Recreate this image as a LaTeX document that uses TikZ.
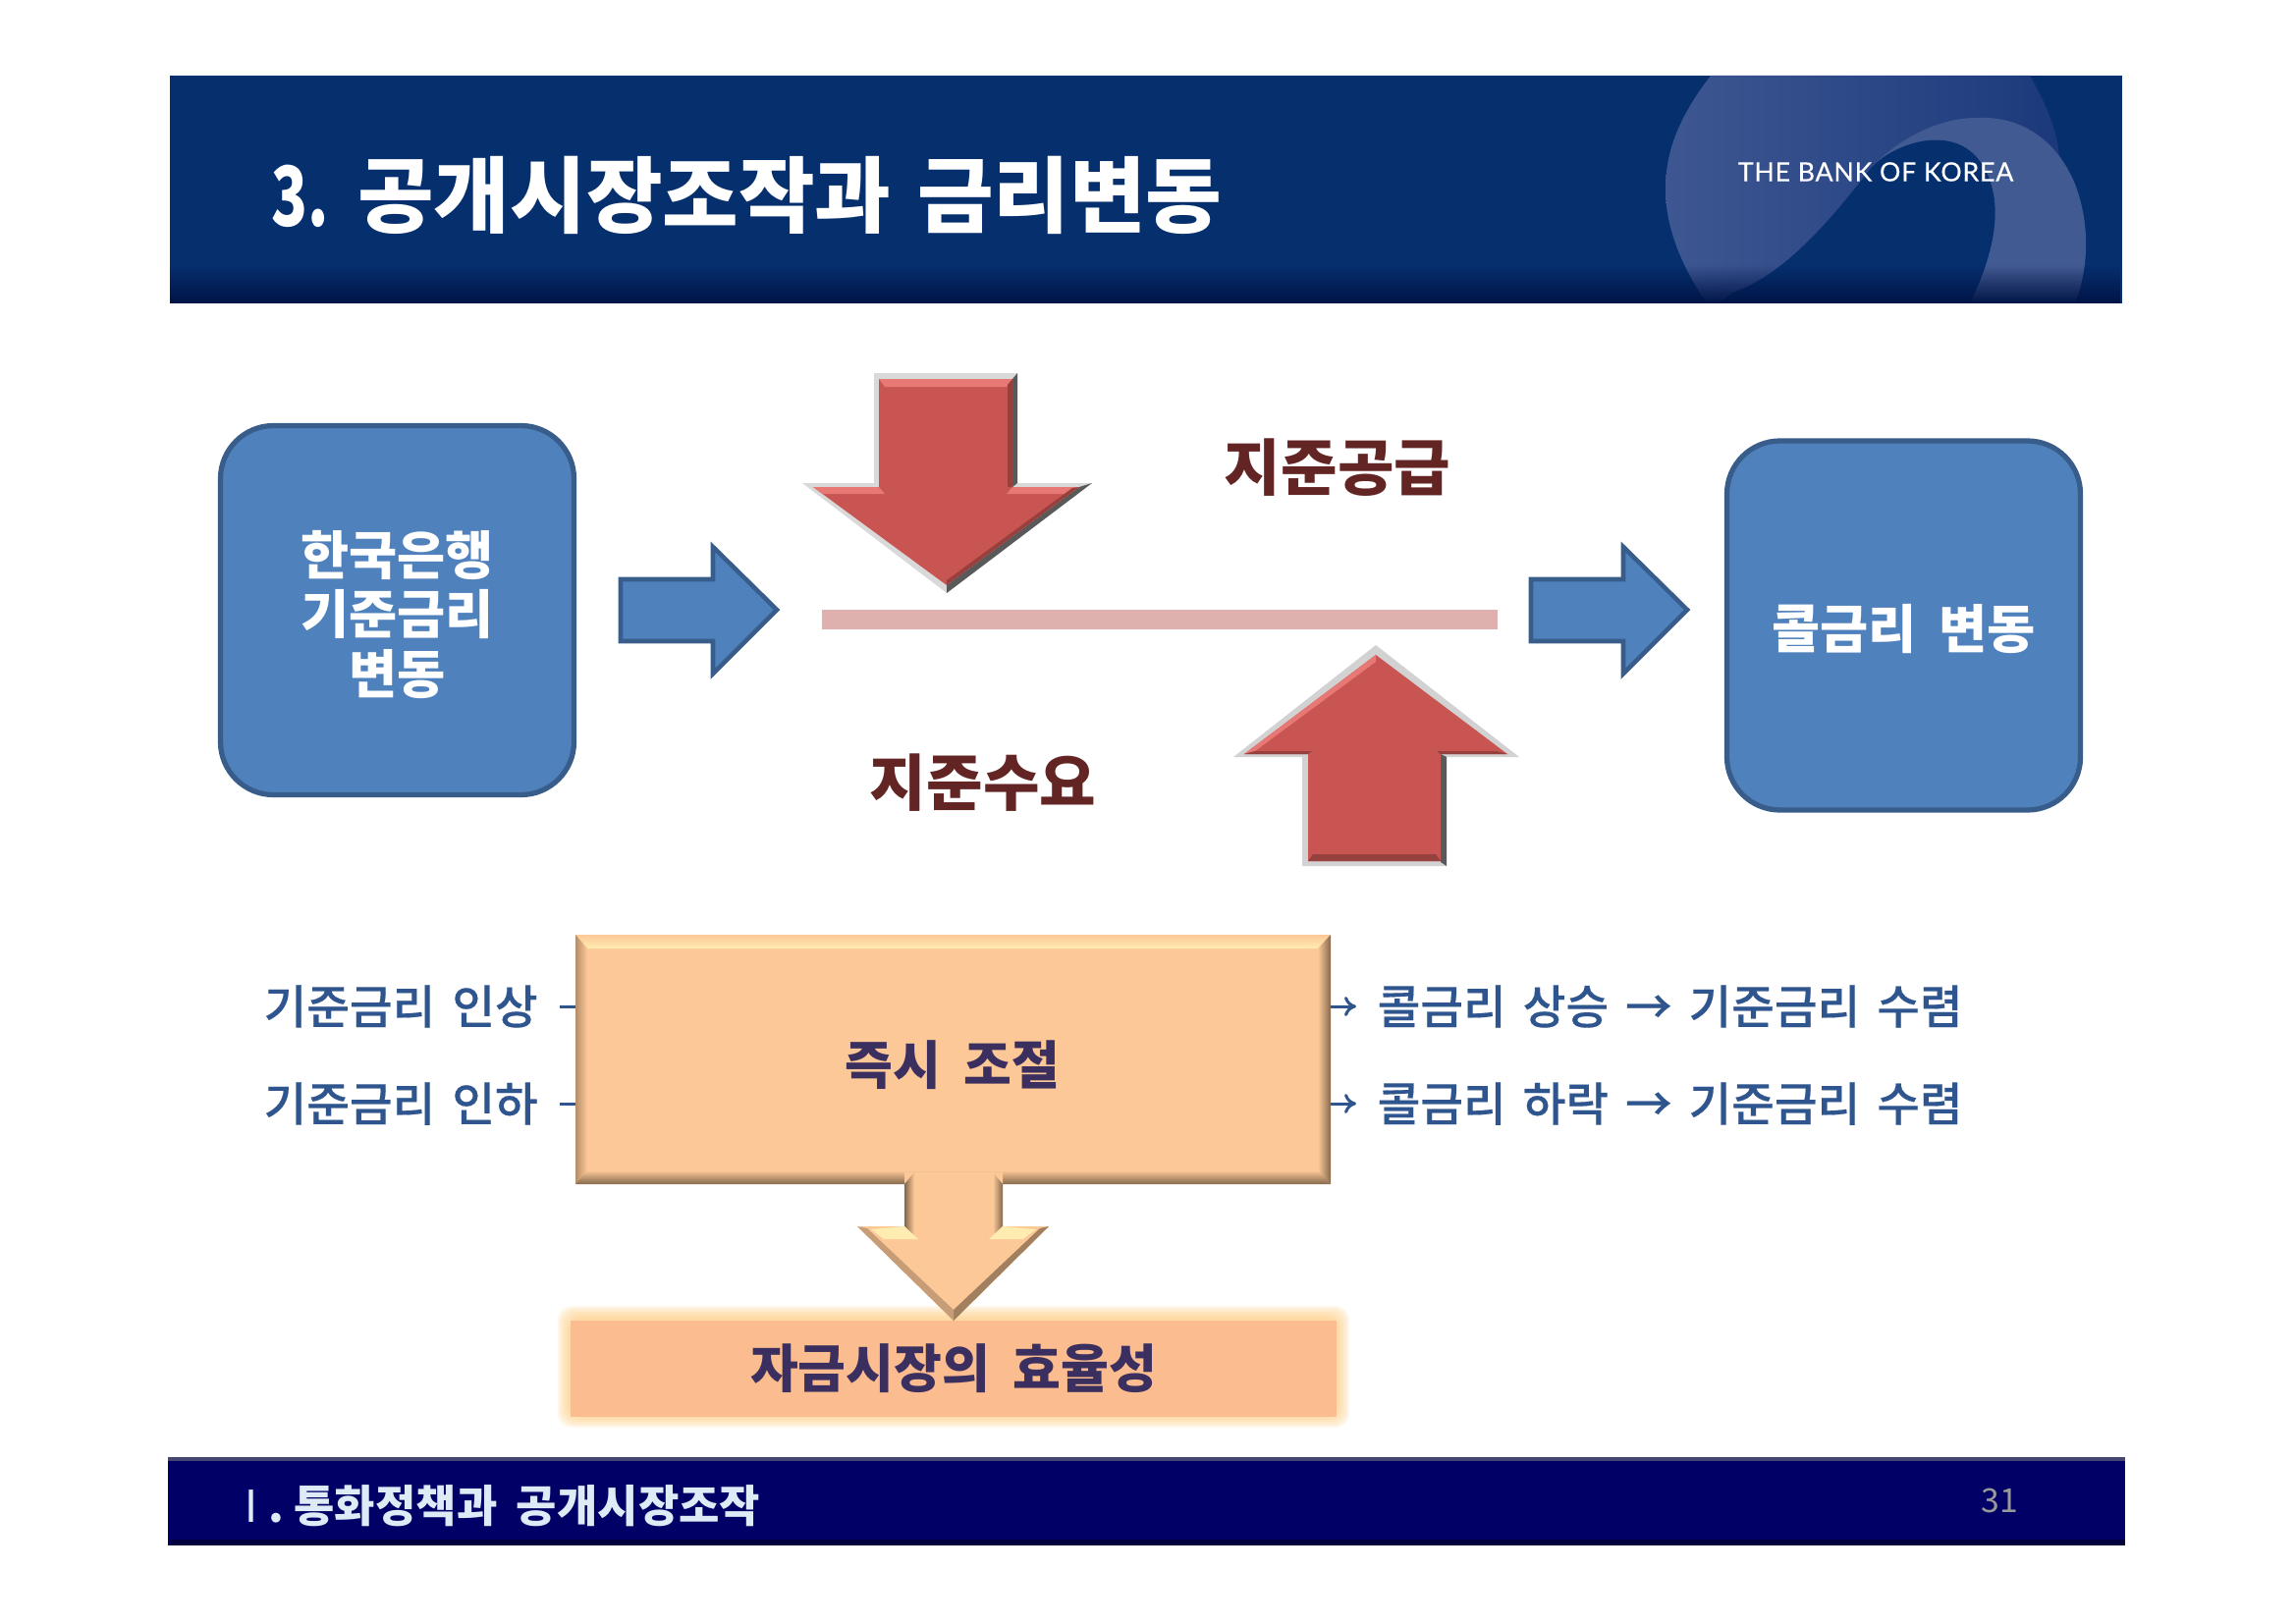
\documentclass[tikz,border=0pt]{standalone}
\usepackage{fontspec}
\setmainfont{Noto Sans CJK KR}[WordSpace=1.9]
\newfontfamily\figmedium{Noto Sans CJK KR Medium}[WordSpace=1.6,FakeBold=0.3]
\newfontfamily\figlatin{Lato}[LetterSpace=3,FakeBold=0.3]
\usepackage{xcolor}
\usetikzlibrary{arrows.meta,calc,positioning,fadings}
\definecolor{figNavy}{RGB}{6,47,110}
\definecolor{figDeep}{RGB}{0,20,70}
\definecolor{figFoot}{RGB}{0,0,102}
\definecolor{figSwirlA}{RGB}{62,87,146}
\definecolor{figSwirlB}{RGB}{26,56,122}
\definecolor{figSwirlC}{RGB}{66,90,146}
\definecolor{figBlue}{RGB}{79,129,189}
\definecolor{figBlueEdge}{RGB}{56,93,138}
\definecolor{figLink}{RGB}{47,85,143}
\definecolor{figRed}{RGB}{200,85,81}
\definecolor{figRedHi}{RGB}{232,120,115}
\definecolor{figRedLo}{RGB}{150,65,62}
\definecolor{figBar}{RGB}{223,177,174}
\definecolor{figMaroon}{RGB}{99,37,35}
\definecolor{figPeach}{RGB}{252,200,152}
\definecolor{figCream}{RGB}{255,236,176}
\definecolor{figBrown}{RGB}{132,104,76}
\definecolor{figSand}{RGB}{251,189,143}
\definecolor{figGlow}{RGB}{253,205,130}
\definecolor{figInk}{RGB}{59,47,95}
\definecolor{figFootText}{RGB}{222,234,246}
\tikzset{
  figbluebox/.style={draw=figBlueEdge,line width=1.5pt,fill=figBlue,rounded corners=5.4mm,minimum width=3.6cm,minimum height=3.76cm},
  figboxtext/.style={text=white,align=center,inner sep=0pt,font=\bfseries\fontsize{15.2}{17.2}\selectfont},
  figblockblue/.style={draw=figBlueEdge,line width=1.3pt,fill=figBlue},
  figlabelred/.style={text=figMaroon,inner sep=0pt,font=\bfseries\fontsize{17.8}{20}\selectfont},
  figlabelblue/.style={text=figLink,inner sep=0pt,anchor=west,font=\figmedium\fontsize{13.5}{16}\selectfont},
  figinkbold/.style={text=figInk,inner sep=0pt,font=\bfseries\fontsize{15.1}{18}\selectfont},
  figlink/.style={-{To[length=1.2mm,width=2mm]},draw=figLink,line width=0.85pt,shorten <=2.2mm,shorten >=2.1mm},
}
\begin{document}
\begin{tikzpicture}[x=0.1mm,y=-0.1mm]
\useasboundingbox (0,0) rectangle (2337,1653);

% Header band with the swirl.
\begin{scope}
\clip (173,77) rectangle (2161,309);
\fill[figNavy] (173,77) rectangle (2161,309);
\shade[left color=figSwirlA,right color=figSwirlB] (1742,77) .. controls (1705,125) and (1696,160) .. (1696,193)
  .. controls (1696,235) and (1715,275) .. (1738,309) -- (2113,309) -- (2097,160)
  .. controls (2095,130) and (2080,100) .. (2067,77) -- cycle;
\fill[figNavy] (1750,309) -- (1765,298) .. controls (1815,280) and (1860,230) .. (1906,170)
  .. controls (1930,145) and (1985,128) .. (2013,160) .. controls (2038,190) and (2040,240) .. (2006,309) -- cycle;
\fill[figSwirlC] (1906,170) .. controls (1930,145) and (1985,128) .. (2013,160)
  .. controls (2038,190) and (2040,240) .. (2006,309) -- (2113,309)
  .. controls (2128,270) and (2128,225) .. (2112,185) .. controls (2090,135) and (2050,118) .. (2013,120)
  .. controls (1975,120) and (1935,140) .. (1906,170) -- cycle;
\fill[figDeep,path fading=north] (173,270) rectangle (2161,309);
\end{scope}
\node[text=white,inner sep=0pt,anchor=west,font=\bfseries\fontsize{24}{28}\selectfont] (title) at (276,199) {\scalebox{0.72}[1]{3.}\hspace{-0.75mm} 공개시장조작과\hspace{-1mm} 금리변동};
\node[text=white,inner sep=0pt,font=\figlatin\fontsize{7.6}{9}\selectfont] (bank) at (1910,175) {THE BANK OF KOREA};

% Side boxes and blue arrows.
\node[figbluebox] (rateBox) at (404.5,621.5) {};
\node[figbluebox] (callBox) at (1938.5,637) {};
\node[figboxtext] (rateText) at (404.5,626) {한국은행\\기준금리\\변동};
\node[figboxtext] (callText) at (1938.5,641) {콜금리 변동};
\foreach \ax in {632,1559}{
  \draw[figblockblue] (\ax,590) -- ++(94,0) -- ++(0,-33) -- ++(65,64) -- ++(-65,65) -- ++(0,-33) -- ++(-94,0) -- cycle;
}

% Reserve bar and red arrows.
\fill[figBar] (837,621) rectangle (1525,641);
\fill[gray!30] (890,380) -- (1036,380) -- (1036,492) -- (1112,492) -- (964,604) -- (817,492) -- (890,492) -- cycle;
\fill[gray!70!black] (1036,380) -- (1036,492) -- (1031,496) -- (1031,386) -- cycle;
\fill[gray!70!black] (1112,492) -- (964,604) -- (964,596) -- (1099,496) -- cycle;
\fill[figRed] (895,386) -- (1031,386) -- (1031,496) -- (1099,496) -- (964,596) -- (828,496) -- (895,496) -- cycle;
\fill[figRedHi] (895,386) -- (1031,386) -- (1025,394) -- (901,394) -- cycle;
\fill[figRedHi] (828,496) -- (895,496) -- (901,503) -- (838,503) -- cycle;
\fill[figRedHi] (1031,496) -- (1099,496) -- (1089,503) -- (1025,503) -- cycle;
\fill[figRedLo] (1031,386) -- (1031,496) -- (1026,496) -- (1026,392) -- cycle;
\fill[figRedLo] (1099,496) -- (964,596) -- (964,591) -- (1092,497) -- cycle;

\fill[gray!35] (1401,657) -- (1547,771) -- (1473,771) -- (1473,882) -- (1326,882) -- (1326,771) -- (1256,771) -- cycle;
\fill[gray!70!black] (1467,768) -- (1473,771) -- (1473,882) -- (1467,878) -- cycle;
\fill[figRed] (1401,667) -- (1535,768) -- (1467,768) -- (1467,877) -- (1332,877) -- (1332,768) -- (1267,768) -- cycle;
\fill[figRedHi] (1401,667) -- (1267,768) -- (1278,765) -- (1401,674) -- cycle;
\fill[figRedLo] (1267,768) -- (1332,768) -- (1336,765) -- (1278,765) -- cycle;
\fill[figRedLo] (1467,768) -- (1535,768) -- (1524,765) -- (1463,765) -- cycle;
\fill[figRedLo] (1332,877) -- (1467,877) -- (1462,870) -- (1337,870) -- cycle;
\node[figlabelred] (supply) at (1362,476) {지준공급};
\node[figlabelred] (demand) at (1001,797) {지준수요};

% Policy rate lines, running behind the box.
\node[figlabelblue] (hikeText) at (268,1025) {기준금리 인상};
\node[figlabelblue] (cutText) at (268,1124) {기준금리 인하};
\node[figlabelblue] (riseText) at (1402,1025) {콜금리 상승 → 기준금리 수렴};
\node[figlabelblue] (fallText) at (1402,1124) {콜금리 하락 → 기준금리 수렴};
\draw[figlink] (hikeText.east) -- (riseText.west);
\draw[figlink] (cutText.east) -- (fallText.west);

% Orange box with its bevel.
\fill[figPeach] (586,952) rectangle (1355,1206);
\shade[top color=figPeach,bottom color=figCream] (586,952) -- (1355,952) -- (1342,966) -- (598,966) -- cycle;
\shade[left color=figBrown!60!figPeach,right color=figPeach] (586,952) -- (598,966) -- (598,1192) -- (586,1206) -- cycle;
\shade[left color=figPeach,right color=figBrown] (1355,952) -- (1342,966) -- (1342,1192) -- (1355,1206) -- cycle;
\shade[top color=figPeach,bottom color=figBrown] (586,1206) -- (598,1192) -- (1342,1192) -- (1355,1206) -- cycle;
\node[figinkbold] (adjust) at (970,1085) {즉시 조절};

% Glow and efficiency box.
\foreach \gl in {13,11,9,7,5,3,1}{
  \fill[figGlow,opacity=0.17,rounded corners=1.4mm] ({581-\gl},{1343-\gl}) rectangle ({1361+\gl},{1441+\gl});
}
\node[figinkbold,fill=figSand,minimum width=7.8cm,minimum height=0.98cm,yshift=-0.2mm] (market) at (971,1392) {\raisebox{-0.7mm}{자금시장의 효율성}};

% Orange arrow.
\fill[figPeach] (921,1194) -- (1021,1194) -- (1021,1249) -- (1068,1249) -- (971,1345) -- (873,1249) -- (921,1249) -- cycle;
\shade[left color=figPeach,right color=figBrown] (1011,1194) -- (1021,1206) -- (1021,1249) -- (1011,1260) -- cycle;
\shade[left color=figBrown,right color=figPeach] (921,1206) -- (931,1194) -- (931,1260) -- (921,1249) -- cycle;
\fill[figBrown!75!figPeach] (1068,1249) -- (971,1345) -- (971,1334) -- (1059,1251) -- cycle;
\fill[figBrown!45!figPeach] (873,1249) -- (971,1345) -- (971,1334) -- (883,1251) -- cycle;
\fill[figCream] (887,1252) -- (921,1249) -- (935,1262) -- (900,1262) -- cycle;
\fill[figCream] (1021,1249) -- (1055,1252) -- (1042,1262) -- (1007,1262) -- cycle;

% Footer band.
\fill[figFoot] (171,1484) rectangle (2164,1574);
\fill[figFoot!45!gray] (171,1484) rectangle (2164,1488);
\fill[figFoot!60!black] (173,1568) rectangle (2164,1574);
\node[text=figFootText,inner sep=0pt,anchor=west,font=\bfseries\fontsize{12.8}{15}\selectfont] (chapter) at (233,1534) {{\mdseries Ⅰ}\hspace{-0.5mm}.\hspace{-1.3mm} 통화정책과 공개시장조작};
\node[text=gray!80,inner sep=0pt,font=\fontsize{9.6}{11}\selectfont] (pageNo) at (2036,1528) {31};
\end{tikzpicture}
\end{document}
